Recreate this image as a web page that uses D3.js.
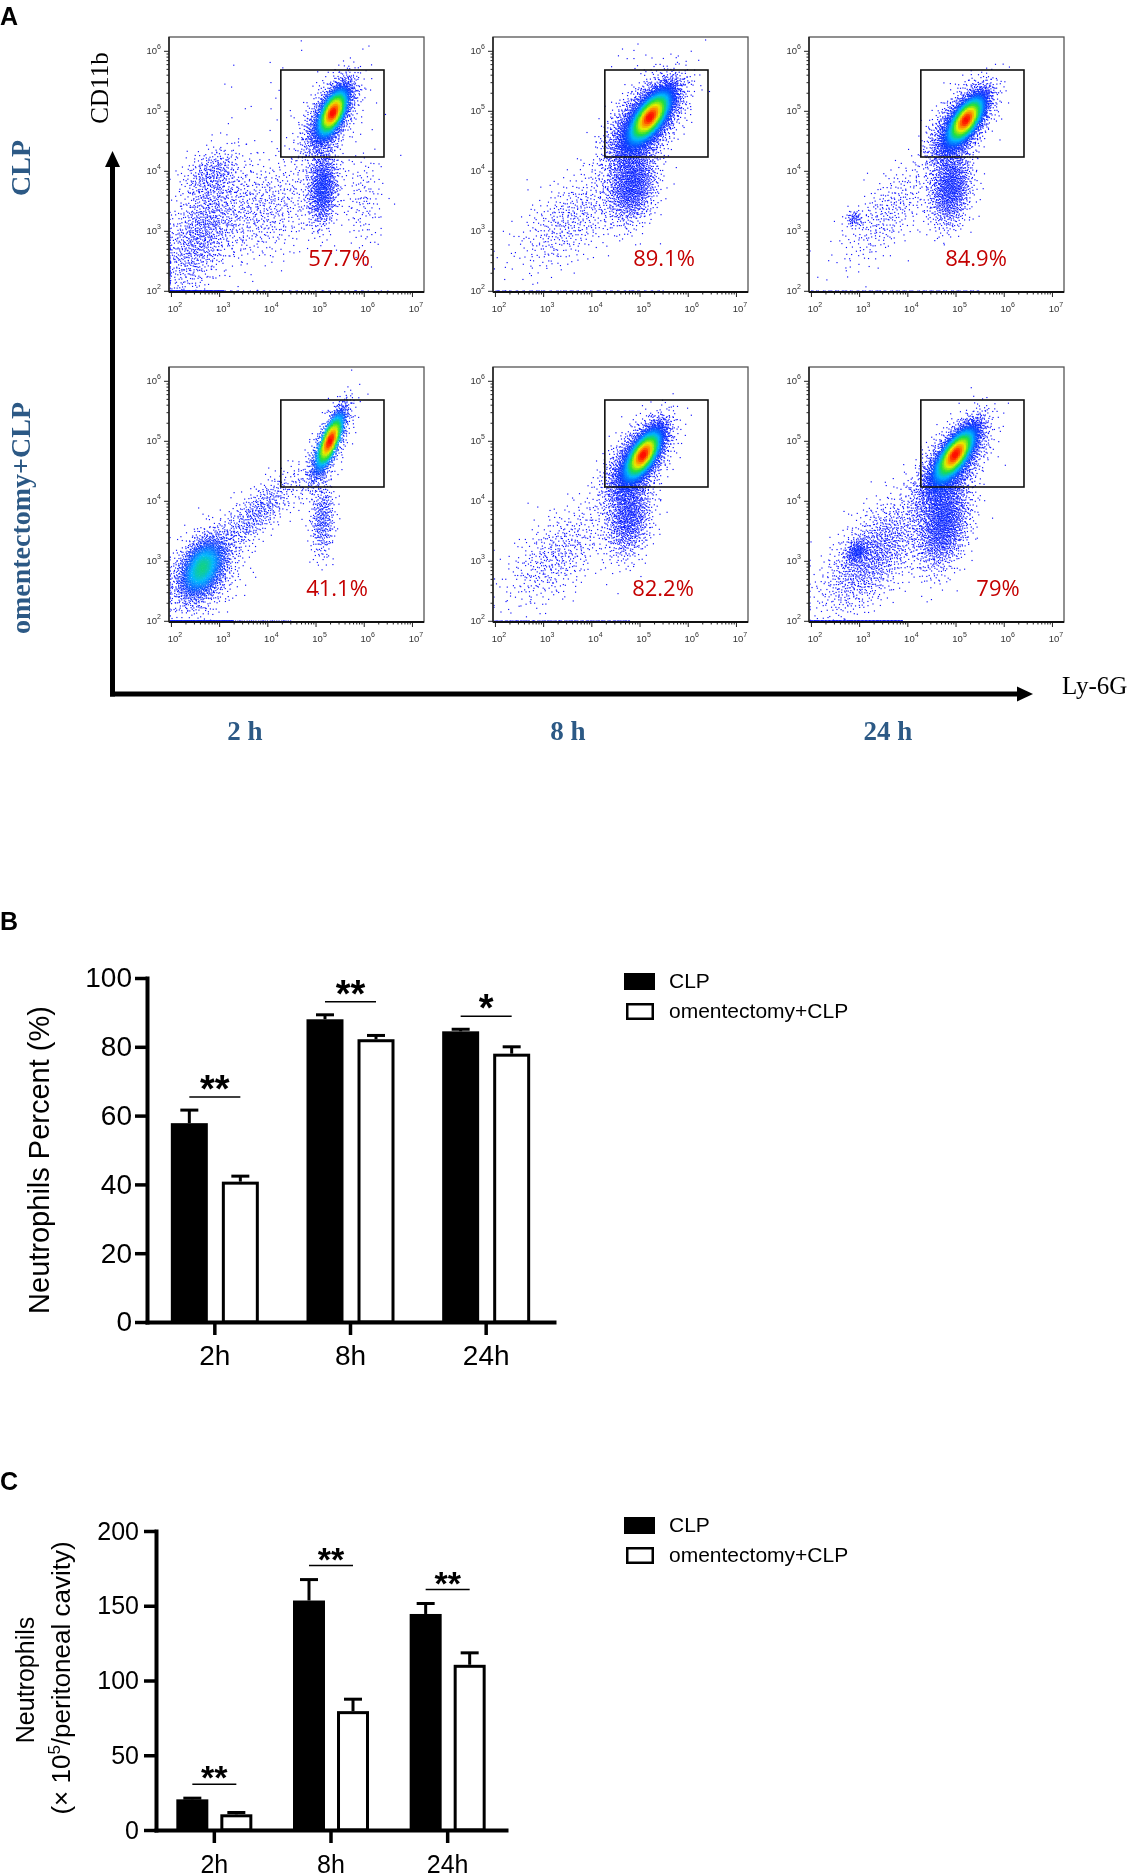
<!DOCTYPE html>
<html>
<head>
<meta charset="utf-8">
<script src="https://cdn.jsdelivr.net/npm/d3@7"></script>
<style>
  body { margin: 0; background: #fff; }
  #wrap { position: relative; width: 1132px; height: 1876px; }
  #dots, #fig { position: absolute; left: 0; top: 0; }
</style>
</head>
<body>
<div id="wrap">
  <canvas id="dots" width="1132" height="1876"></canvas>
  <svg id="fig" width="1132" height="1876"></svg>
</div>
<script>
// ---- Panel A: flow cytometry (Ly-6G vs CD11b) ----
const rowLabels = ["CLP", "omentectomy+CLP"];
const timeLabels = ["2 h", "8 h", "24 h"];
const gatePercent = ["57.7%", "89.1%", "84.9%", "41.1%", "82.2%", "79%"];
// gate bounds, log10 units
const gateLy6G = [4.28, 6.42];
const gateCD11b = [4.23, 5.68];
const xDecades = [2, 3, 4, 5, 6, 7];
const yDecades = [2, 3, 4, 5, 6];

// populations: [log10 Ly-6G centre, log10 CD11b centre, spread Ly-6G, spread CD11b, correlation, events]
const clp2hPops = [
  [5.36, 4.97, 0.15, 0.20, 0.65, 4500],
  [5.30, 4.90, 0.28, 0.33, 0.60, 1500],
  [5.15, 3.72, 0.16, 0.32, 0.15, 1000],
  [2.62, 2.95, 0.42, 0.55, 0.55, 1100],
  [2.85, 3.95, 0.30, 0.22, 0.30, 320],
  [3.90, 3.35, 0.60, 0.45, 0.30, 650],
  [6.00, 3.50, 0.22, 0.45, 0.00, 150],
  [4.40, 5.20, 0.90, 0.45, 0.00, 30]
];
const clp8hPops = [
  [5.22, 4.90, 0.22, 0.22, 0.70, 8000],
  [5.10, 4.80, 0.38, 0.36, 0.60, 3000],
  [4.85, 3.78, 0.26, 0.33, 0.20, 1400],
  [3.60, 3.20, 0.60, 0.45, 0.60, 550],
  [4.90, 5.90, 0.30, 0.15, 0.00, 12]
];
const clp24hPops = [
  [5.22, 4.85, 0.19, 0.20, 0.70, 6000],
  [5.10, 4.75, 0.32, 0.33, 0.60, 2000],
  [4.90, 3.72, 0.22, 0.33, 0.20, 1200],
  [2.90, 3.20, 0.09, 0.07, 0.00, 70],
  [3.60, 3.30, 0.50, 0.45, 0.70, 380]
];
const om2hPops = [
  [5.30, 5.00, 0.14, 0.24, 0.80, 2700],
  [5.25, 4.90, 0.24, 0.36, 0.75, 800],
  [5.15, 3.70, 0.13, 0.33, 0.10, 380],
  [2.65, 2.88, 0.24, 0.25, 0.40, 2600],
  [2.70, 2.80, 0.40, 0.40, 0.40, 700],
  [3.80, 3.80, 0.45, 0.35, 0.80, 550]
];
const om8hPops = [
  [5.08, 4.77, 0.19, 0.21, 0.70, 6500],
  [4.95, 4.65, 0.33, 0.34, 0.60, 2200],
  [4.78, 3.75, 0.24, 0.35, 0.20, 1100],
  [3.30, 3.10, 0.55, 0.45, 0.60, 550]
];
const om24hPops = [
  [5.00, 4.78, 0.21, 0.22, 0.75, 6500],
  [4.90, 4.60, 0.35, 0.36, 0.65, 2500],
  [4.75, 3.65, 0.28, 0.40, 0.30, 1800],
  [2.95, 3.15, 0.12, 0.10, 0.30, 220],
  [3.30, 3.10, 0.55, 0.50, 0.65, 1400]
];
// events piled on the CD11b floor: [log10 Ly-6G from, to, events]
const clp2hFloor = [[2.0, 3.1, 120], [3.1, 6.5, 40]];
const clp8hFloor = [[2.0, 5.5, 60]];
const clp24hFloor = [[2.0, 5.5, 70]];
const om2hFloor = [[2.0, 3.3, 200], [3.3, 4.5, 30]];
const om8hFloor = [[2.0, 4.8, 90]];
const om24hFloor = [[2.0, 3.9, 200]];

// ---- Panels B and C: bar charts ----
const timepoints = ["2h", "8h", "24h"];
const groups = ["CLP", "omentectomy+CLP"];
const pctTicks = [0, 20, 40, 60, 80, 100];
const pctCLP = [57.8, 88.0, 84.5];
const pctCLPErr = [3.8, 1.3, 0.6];
const pctOm = [40.8, 82.2, 78.0];
const pctOmErr = [1.6, 1.1, 2.0];
const pctSig = ["**", "**", "*"];
const cntTicks = [0, 50, 100, 150, 200];
const cntCLP = [20.5, 153.5, 144.5];
const cntCLPErr = [0.8, 14.0, 7.0];
const cntOm = [10.5, 79.5, 110.5];
const cntOmErr = [1.2, 8.0, 8.0];
const cntSig = ["**", "**", "**"];

const SANS = "'Liberation Sans', Arial, sans-serif";
const SERIF = "'Liberation Serif', 'Times New Roman', serif";
const BLUE = "#2c5985";

const svg = d3.select("#fig");
const ctx = document.getElementById("dots").getContext("2d");

// panel letters
[["A", 25], ["B", 930], ["C", 1490]].forEach(([t, y]) => {
  svg.append("text").attr("x", 0).attr("y", y).attr("font-family", SANS)
    .attr("font-weight", "bold").attr("font-size", 25).text(t);
});

// ---------- flow plots ----------
const SIZE = 255;
const colX = [169, 493, 809];
const rowY = [37, 367];
const pctDx = [170, 171, 167, 168, 170, 189];

const fx = d3.scaleLog().domain([10 ** 1.96, 10 ** 7.25]).range([0, SIZE]);
const fy = d3.scaleLog().domain([10 ** 1.98, 10 ** 6.23]).range([SIZE, 0]);

function halton(i, b) {
  let f = 1, r = 0;
  while (i > 0) { f /= b; r += f * (i % b); i = Math.floor(i / b); }
  return r;
}

const density = d3.scaleLinear()
  .domain([0, 0.14, 0.32, 0.52, 0.74, 0.9, 1])
  .range(["#0a0aff", "#0a3cff", "#00b8ff", "#20e040", "#e8f000", "#ff8000", "#ff1000"])
  .clamp(true);

let seq = 1;
const panels = [
  [clp2hPops, clp2hFloor], [clp8hPops, clp8hFloor], [clp24hPops, clp24hFloor],
  [om2hPops, om2hFloor], [om8hPops, om8hFloor], [om24hPops, om24hFloor]
];

panels.forEach(([pops, floor], i) => {
  const col = i % 3, row = Math.floor(i / 3);
  const ox = colX[col], oy = rowY[row];
  const pts = [];
  pops.forEach(([cx, cy, sx, sy, rho, n]) => {
    for (let j = 0; j < n; j++, seq++) {
      const u1 = halton(seq, 2), u2 = halton(seq, 3);
      const rr = Math.sqrt(-2 * Math.log(u1));
      const z1 = rr * Math.cos(2 * Math.PI * u2), z2 = rr * Math.sin(2 * Math.PI * u2);
      const lx = cx + sx * z1;
      const ly = cy + sy * (rho * z1 + Math.sqrt(1 - rho * rho) * z2);
      let px = fx(10 ** lx), py = fy(10 ** ly);
      if (px > SIZE - 1 || py < 1) continue;
      if (py > SIZE - 1) py = SIZE - 1;
      if (px < 1) px = 1;
      pts.push([px, py]);
    }
  });
  floor.forEach(([a, b, n]) => {
    for (let j = 0; j < n; j++, seq++) {
      const lx = a + (b - a) * halton(seq, 5);
      pts.push([fx(10 ** lx), SIZE - 1]);
    }
  });

  // local density for pseudocolour
  const nb = 128, grid = new Float32Array(nb * nb);
  const bin = p => Math.min(nb - 1, Math.floor(p[1] / 2)) * nb + Math.min(nb - 1, Math.floor(p[0] / 2));
  pts.forEach(p => grid[bin(p)]++);
  const tmp = new Float32Array(nb * nb), k = [1, 2, 3, 2, 1];
  for (let pass = 0; pass < 2; pass++) {
    for (let yy = 0; yy < nb; yy++) for (let xx = 0; xx < nb; xx++) {
      let s = 0;
      for (let d = -2; d <= 2; d++) { const q = xx + d; if (q >= 0 && q < nb) s += k[d + 2] * grid[yy * nb + q]; }
      tmp[yy * nb + xx] = s / 9;
    }
    for (let yy = 0; yy < nb; yy++) for (let xx = 0; xx < nb; xx++) {
      let s = 0;
      for (let d = -2; d <= 2; d++) { const q = yy + d; if (q >= 0 && q < nb) s += k[d + 2] * tmp[q * nb + xx]; }
      grid[yy * nb + xx] = s / 9;
    }
  }
  const max = d3.max(grid);
  const shaded = pts.map(p => [p[0], p[1], grid[bin(p)] / max]).sort((a, b) => a[2] - b[2]);
  shaded.forEach(([px, py, t]) => {
    ctx.fillStyle = density(t);
    ctx.fillRect(ox + px - 0.55, oy + py - 0.55, 1.15, 1.15);
  });

  const g = svg.append("g").attr("transform", `translate(${ox},${oy})`);
  g.append("rect").attr("width", SIZE).attr("height", SIZE)
    .attr("fill", "none").attr("stroke", "#555").attr("stroke-width", 1.3);

  // log axes
  const xMinor = [], yMinor = [];
  for (let e = 1; e <= 7; e++) for (let m = 2; m <= 9; m++) {
    const v = m * 10 ** e;
    if (v > fx.domain()[0] && v < fx.domain()[1]) xMinor.push(v);
    if (v > fy.domain()[0] && v < fy.domain()[1]) yMinor.push(v);
  }
  const axStyle = s => { s.select(".domain").remove(); s.selectAll("line").attr("stroke", "#222"); };
  g.append("g").call(d3.axisLeft(fy).tickValues(yMinor).tickSize(2.5).tickFormat("")).call(axStyle);
  g.append("g").call(d3.axisLeft(fy).tickValues(yDecades.map(e => 10 ** e)).tickSize(5).tickFormat("")).call(axStyle);
  g.append("g").attr("transform", `translate(0,${SIZE})`)
    .call(d3.axisBottom(fx).tickValues(xMinor).tickSize(2.5).tickFormat("")).call(axStyle);
  g.append("g").attr("transform", `translate(0,${SIZE})`)
    .call(d3.axisBottom(fx).tickValues(xDecades.map(e => 10 ** e)).tickSize(5).tickFormat("")).call(axStyle);
  g.append("line").attr("x1", 0).attr("x2", SIZE).attr("y1", SIZE).attr("y2", SIZE)
    .attr("stroke", "#111").attr("stroke-width", 2);
  g.append("line").attr("x1", 0).attr("x2", 0).attr("y1", 0).attr("y2", SIZE)
    .attr("stroke", "#222").attr("stroke-width", 1.5);

  const pow = (sel, e) => {
    sel.append("tspan").text("10");
    sel.append("tspan").attr("dy", -5).attr("font-size", 7).text(e);
  };
  yDecades.forEach(e => {
    g.append("text").attr("x", -8).attr("y", fy(10 ** e) + 3.5).attr("text-anchor", "end")
      .attr("font-family", SANS).attr("font-size", 9.5).attr("fill", "#333").call(pow, e);
  });
  xDecades.forEach(e => {
    g.append("text").attr("x", fx(10 ** e) + 4).attr("y", SIZE + 20).attr("text-anchor", "middle")
      .attr("font-family", SANS).attr("font-size", 9.5).attr("fill", "#333").call(pow, e);
  });

  // gate
  g.append("rect")
    .attr("x", fx(10 ** gateLy6G[0])).attr("y", fy(10 ** gateCD11b[1]))
    .attr("width", fx(10 ** gateLy6G[1]) - fx(10 ** gateLy6G[0]))
    .attr("height", fy(10 ** gateCD11b[0]) - fy(10 ** gateCD11b[1]))
    .attr("fill", "none").attr("stroke", "#111").attr("stroke-width", 1.6);

  g.append("text").attr("x", pctDx[i]).attr("y", 229).attr("text-anchor", "middle")
    .attr("font-family", "'Open Sans', sans-serif").attr("font-size", 22).attr("fill", "#c40000")
    .text(gatePercent[i]);
});

// big axis arrows
svg.append("line").attr("x1", 112.5).attr("x2", 112.5).attr("y1", 696.5).attr("y2", 163)
  .attr("stroke", "#000").attr("stroke-width", 5);
svg.append("path").attr("d", "M112.5,151L105,167L120,167Z").attr("fill", "#000");
svg.append("line").attr("x1", 110).attr("x2", 1020).attr("y1", 694).attr("y2", 694)
  .attr("stroke", "#000").attr("stroke-width", 5);
svg.append("path").attr("d", "M1033,694L1017,686.5L1017,701.5Z").attr("fill", "#000");

svg.append("text").attr("transform", "translate(108,88) rotate(-90)").attr("text-anchor", "middle")
  .attr("font-family", SERIF).attr("font-size", 25).text("CD11b");
svg.append("text").attr("x", 1062).attr("y", 694)
  .attr("font-family", SERIF).attr("font-size", 25).text("Ly-6G");
rowLabels.forEach((t, r) => {
  svg.append("text").attr("transform", `translate(30,${[168, 518][r]}) rotate(-90)`)
    .attr("text-anchor", "middle").attr("font-family", SERIF).attr("font-weight", "bold")
    .attr("font-size", 28).attr("fill", BLUE).text(t);
});
timeLabels.forEach((t, c) => {
  svg.append("text").attr("x", [245, 568, 888][c]).attr("y", 740).attr("text-anchor", "middle")
    .attr("font-family", SERIF).attr("font-weight", "bold").attr("font-size", 27)
    .attr("fill", BLUE).text(t);
});

// ---------- bar charts ----------
function drawBars(cfg) {
  const x = d3.scaleBand().domain(timepoints).range([cfg.x0, cfg.x1]);
  const inner = d3.scaleBand().domain(groups).range([-cfg.half, cfg.half]).paddingInner(cfg.gap);
  const y = d3.scaleLinear().domain([0, cfg.ticks[cfg.ticks.length - 1]]).range([cfg.y0, cfg.y1]);
  const g = svg.append("g");
  const series = [
    { key: groups[0], vals: cfg.clp, errs: cfg.clpErr },
    { key: groups[1], vals: cfg.om, errs: cfg.omErr }
  ];
  const bars = [];
  series.forEach((s, si) => timepoints.forEach((t, i) => {
    const left = x(t) + x.bandwidth() / 2 + inner(s.key);
    bars.push({ si, i, left, mid: left + inner.bandwidth() / 2, v: s.vals[i], e: s.errs[i] });
  }));

  g.selectAll(".err").data(bars).join("line")
    .attr("x1", d => d.mid).attr("x2", d => d.mid)
    .attr("y1", d => y(d.v)).attr("y2", d => y(d.v + d.e))
    .attr("stroke", "#000").attr("stroke-width", 3);
  g.selectAll(".cap").data(bars).join("line")
    .attr("x1", d => d.mid - cfg.cap).attr("x2", d => d.mid + cfg.cap)
    .attr("y1", d => y(d.v + d.e)).attr("y2", d => y(d.v + d.e))
    .attr("stroke", "#000").attr("stroke-width", 3);
  g.selectAll(".bar").data(bars).join("rect")
    .attr("x", d => d.si ? d.left + 1.5 : d.left)
    .attr("y", d => d.si ? y(d.v) + 1.5 : y(d.v))
    .attr("width", d => d.si ? inner.bandwidth() - 3 : inner.bandwidth())
    .attr("height", d => cfg.y0 - y(d.v) - (d.si ? 1.5 : 0))
    .attr("fill", d => d.si ? "#fff" : "#000")
    .attr("stroke", d => d.si ? "#000" : "none").attr("stroke-width", 3);

  // significance
  timepoints.forEach((t, i) => {
    const a = bars.find(b => b.si === 0 && b.i === i), b = bars.find(b => b.si === 1 && b.i === i);
    const ly = Math.min(y(a.v + a.e), y(b.v + b.e)) - cfg.sigGap;
    g.append("line").attr("x1", a.mid).attr("x2", b.mid).attr("y1", ly).attr("y2", ly)
      .attr("stroke", "#000").attr("stroke-width", 1.5);
    g.append("text").attr("x", (a.mid + b.mid) / 2).attr("y", ly + cfg.starDy)
      .attr("text-anchor", "middle").attr("font-family", SANS).attr("font-weight", "bold")
      .attr("font-size", cfg.starSize).text(cfg.sig[i]);
  });

  const ya = g.append("g").attr("transform", `translate(${cfg.x0},0)`)
    .call(d3.axisLeft(y).tickValues(cfg.ticks).tickSize(12).tickSizeOuter(0).tickPadding(cfg.yPad));
  const xa = g.append("g").attr("transform", `translate(0,${cfg.y0})`)
    .call(d3.axisBottom(x).tickSize(13).tickSizeOuter(0).tickPadding(cfg.xPad));
  [ya, xa].forEach(a => {
    a.select(".domain").attr("stroke-width", 4).attr("stroke-linecap", "square");
    a.selectAll(".tick line").attr("stroke-width", 3.5);
    a.selectAll("text").attr("font-family", SANS).attr("font-size", cfg.font).attr("fill", "#000");
  });

  // legend
  const lg = g.append("g");
  lg.append("rect").attr("x", 624).attr("y", cfg.legY).attr("width", 31).attr("height", 17).attr("fill", "#000");
  lg.append("rect").attr("x", 627.25).attr("y", cfg.legY + 31.25).attr("width", 25.5).attr("height", 14.5)
    .attr("fill", "#fff").attr("stroke", "#000").attr("stroke-width", 2.5);
  groups.forEach((t, i) => {
    lg.append("text").attr("x", 669).attr("y", cfg.legY + 15 + 30 * i)
      .attr("font-family", SANS).attr("font-size", 21).text(t);
  });
  return g;
}

const gB = drawBars({
  x0: 147, x1: 554, y0: 1322, y1: 978, ticks: pctTicks, half: 44, gap: 0.275, cap: 9,
  clp: pctCLP, clpErr: pctCLPErr, om: pctOm, omErr: pctOmErr, sig: pctSig,
  sigGap: 13, starDy: 5, starSize: 38, font: 28, yPad: 3, xPad: 10, legY: 973
});
gB.append("text").attr("transform", "translate(49,1160) rotate(-90)").attr("text-anchor", "middle")
  .attr("font-family", SANS).attr("font-size", 29).text("Neutrophils Percent (%)");

const gC = drawBars({
  x0: 156, x1: 506, y0: 1830, y1: 1531, ticks: cntTicks, half: 38, gap: 0.273, cap: 9,
  clp: cntCLP, clpErr: cntCLPErr, om: cntOm, omErr: cntOmErr, sig: cntSig,
  sigGap: 14, starDy: 5, starSize: 34, font: 25, yPad: 5, xPad: 12, legY: 1517
});
gC.append("text").attr("transform", "translate(34,1680) rotate(-90)").attr("text-anchor", "middle")
  .attr("font-family", SANS).attr("font-size", 25).text("Neutrophils");
const unit = gC.append("text").attr("transform", "translate(70,1678) rotate(-90)").attr("text-anchor", "middle")
  .attr("font-family", SANS).attr("font-size", 26);
unit.append("tspan").text("(\u00d7 10");
unit.append("tspan").attr("dy", -10).attr("font-size", 17).text("5");
unit.append("tspan").attr("dy", 10).text("/peritoneal cavity)");
</script>
</body>
</html>
